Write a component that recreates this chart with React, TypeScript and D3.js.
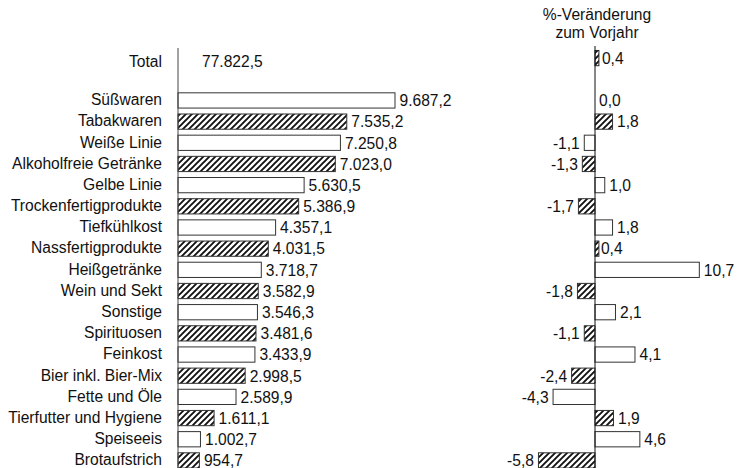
import React from "react";
import * as d3 from "d3";

const categories = [
  "Süßwaren",
  "Tabakwaren",
  "Weiße Linie",
  "Alkoholfreie Getränke",
  "Gelbe Linie",
  "Trockenfertigprodukte",
  "Tiefkühlkost",
  "Nassfertigprodukte",
  "Heißgetränke",
  "Wein und Sekt",
  "Sonstige",
  "Spirituosen",
  "Feinkost",
  "Bier inkl. Bier-Mix",
  "Fette und Öle",
  "Tierfutter und Hygiene",
  "Speiseeis",
  "Brotaufstrich",
];
const values = [
  9687.2, 7535.2, 7250.8, 7023.0, 5630.5, 5386.9, 4357.1, 4031.5, 3718.7,
  3582.9, 3546.3, 3481.6, 3433.9, 2998.5, 2589.9, 1611.1, 1002.7, 954.7,
];
const changes = [
  0.0, 1.8, -1.1, -1.3, 1.0, -1.7, 1.8, 0.4, 10.7, -1.8, 2.1, -1.1, 4.1, -2.4,
  -4.3, 1.9, 4.6, -5.8,
];
const totalLabel = "Total";
const totalValue = 77822.5;
const totalChange = 0.4;
const titleLines = ["%-Veränderung", "zum Vorjahr"];

const fmtVal = (v: number) =>
  d3
    .format(",.1f")(v)
    .replace(/,/g, "#")
    .replace(".", ",")
    .replace(/#/g, ".");
const fmtPct = (v: number) => d3.format(".1f")(v).replace(".", ",").replace("−", "-");

export default function App() {
  const W = 738;
  const H = 468;
  const font = "'Liberation Sans', Arial, sans-serif";
  const rows = [totalLabel, "__gap", ...categories];
  const y = d3.scaleBand<string>().domain(rows).range([47.5, 471]).paddingInner(0.28).paddingOuter(0.14);
  const x = d3.scaleLinear().domain([0, 10000]).range([178, 402]);
  const xp = d3.scaleLinear().domain([-6, 11]).range([595 - 58.5, 595 + 107.25]);
  const bh = y.bandwidth();
  const hatched = (i: number) => i % 2 === 1;
  const dy = "0.31em";
  const gap = 4.5;

  return (
    <svg
      width={W}
      height={H}
      style={{ position: "absolute", left: 0, top: 0, background: "#fff" }}
      fontFamily={font}
      fontSize={15.6}
    >
      <defs>
        <pattern id="hatch" patternUnits="userSpaceOnUse" width={6} height={6}>
          <rect width={6} height={6} fill="#fff" />
          <path d="M-1,7 L7,-1 M-4,4 L4,-4 M2,10 L10,2" stroke="#111" strokeWidth={1.9} />
        </pattern>
      </defs>
      <rect width={W} height={H} fill="#fff" />

      {/* Total row */}
      <text x={162} y={y(totalLabel)! + bh / 2 + 4} dy={dy} textAnchor="end" fill="#111">
        {totalLabel}
      </text>
      <text x={202} y={y(totalLabel)! + bh / 2 + 4} dy={dy} fill="#111">
        {fmtVal(totalValue)}
      </text>
      <rect
        x={Math.min(xp(0), xp(totalChange))}
        y={y(totalLabel)}
        width={Math.abs(xp(totalChange) - xp(0))}
        height={bh}
        fill="url(#hatch)"
        stroke="#222"
        strokeWidth={1}
      />
      <text x={xp(totalChange) + 3} y={y(totalLabel)! + bh / 2 + 1} dy={dy} fill="#111">
        {fmtPct(totalChange)}
      </text>

      {categories.map((c, i) => {
        const yy = y(c)!;
        const v = values[i];
        const ch = changes[i];
        const fill = hatched(i) ? "url(#hatch)" : "#fff";
        const x0 = xp(0);
        const x1 = xp(ch);
        return (
          <g key={c}>
            <text x={162} y={yy + bh / 2} dy={dy} textAnchor="end" fill="#111">
              {c}
            </text>
            <rect
              x={x(0)}
              y={yy}
              width={x(v) - x(0)}
              height={bh}
              fill={fill}
              stroke="#333"
              strokeWidth={1}
            />
            <text x={x(v) + gap} y={yy + bh / 2 + 1} dy={dy} fill="#111">
              {fmtVal(v)}
            </text>
            {ch !== 0 && (
              <rect
                x={Math.min(x0, x1)}
                y={yy}
                width={Math.abs(x1 - x0)}
                height={bh}
                fill={fill}
                stroke="#333"
                strokeWidth={1}
              />
            )}
            <text
              x={ch < 0 ? x1 - gap : ch === 0 ? x0 + 4 : x1 + (Math.abs(ch) < 1 ? 2 : gap)}
              y={yy + bh / 2 + 1}
              dy={dy}
              textAnchor={ch < 0 ? "end" : "start"}
              fill="#111"
            >
              {fmtPct(ch)}
            </text>
          </g>
        );
      })}

      {/* axes */}
      <line x1={x(0)} x2={x(0)} y1={48} y2={H} stroke="#444" strokeWidth={1} />
      <line x1={xp(0)} x2={xp(0)} y1={46} y2={H} stroke="#111" strokeWidth={1} />

      {/* title */}
      {titleLines.map((t, i) => (
        <text key={t} x={597} y={15 + i * 18} dy="0.35em" textAnchor="middle" fill="#111">
          {t}
        </text>
      ))}
    </svg>
  );
}
